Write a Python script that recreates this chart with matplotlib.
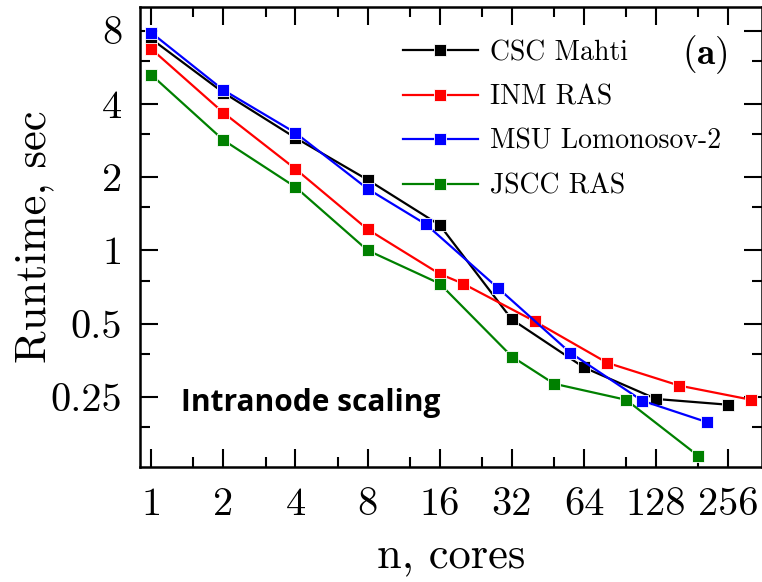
import numpy as np
import matplotlib
matplotlib.use("Agg")
import matplotlib.pyplot as plt

# data
mahti_n = [1, 2, 4, 8, 16, 32, 64, 128, 256]
mahti_t = [7.4, 4.45, 2.9, 1.95, 1.27, 0.52, 0.33, 0.245, 0.232]

inm_n = [1, 2, 4, 8, 16, 20, 40, 80, 160, 320]
inm_t = [6.73, 3.68, 2.16, 1.22, 0.80, 0.73, 0.51, 0.345, 0.278, 0.243]

msu_n = [1, 2, 4, 8, 14, 28, 56, 112, 208]
msu_t = [7.85, 4.56, 3.04, 1.79, 1.28, 0.70, 0.38, 0.241, 0.197]

jscc_n = [1, 2, 4, 8, 16, 32, 48, 96, 192]
jscc_t = [5.27, 2.84, 1.82, 1.0, 0.73, 0.366, 0.283, 0.243, 0.143]

x_ticks = [1, 2, 4, 8, 16, 32, 64, 128, 256]
x_ticklabels = ["1", "2", "4", "8", "16", "32", "64", "128", "256"]
y_ticks = [0.25, 0.5, 1, 2, 4, 8]
y_ticklabels = ["0.25", "0.5", "1", "2", "4", "8"]

plt.rcParams['font.family'] = ['cmr10', 'DejaVu Serif']
plt.rcParams['mathtext.fontset'] = 'cm'
plt.rcParams['axes.unicode_minus'] = False

fig = plt.figure(figsize=(7.62, 5.82), dpi=100)
ax = fig.add_axes([0.184, 0.198, 0.816, 0.79])

series = [
    (mahti_n, mahti_t, 'black', 'CSC Mahti'),
    (inm_n, inm_t, 'red', 'INM RAS'),
    (msu_n, msu_t, 'blue', 'MSU Lomonosov-2'),
    (jscc_n, jscc_t, 'green', 'JSCC RAS'),
]
for xs, ys, col, lab in series:
    ax.plot(xs, ys, color=col, lw=1.6, marker='s', markersize=9,
            markeredgecolor='white', markeredgewidth=0.6, label=lab)

ax.set_xscale('log', base=2)
ax.set_yscale('log', base=2)
xlo, xhi = 0.9, 354
ylo, yhi = 0.129, 10.0

ax.set_xticks(x_ticks)
ax.set_xticklabels(x_ticklabels)
ax.set_xticks([1.5 * t for t in x_ticks if 1.5 * t < xhi], minor=True)
ax.set_yticks(y_ticks)
ax.set_yticklabels(y_ticklabels)
ax.set_yticks([1.5 * t for t in [0.125] + y_ticks if 1.5 * t < yhi], minor=True)
ax.xaxis.set_minor_formatter(plt.NullFormatter())
ax.yaxis.set_minor_formatter(plt.NullFormatter())
ax.set_xlim(xlo, xhi)
ax.set_ylim(ylo, yhi)

ax.tick_params(which='both', direction='in', top=True, right=True, width=1.5,
               labelsize=29)
ax.tick_params(which='major', length=13)
ax.tick_params(which='minor', length=7)
ax.tick_params(axis='x', pad=15)
ax.tick_params(axis='y', pad=13)
for sp in ax.spines.values():
    sp.set_linewidth(1.8)

ax.set_xlabel("n, cores", fontsize=32, labelpad=9)
ax.set_ylabel("Runtime, sec", fontsize=32, labelpad=-3)

ax.legend(loc='upper left', bbox_to_anchor=(0.382, 0.983), frameon=False,
          fontsize=20, handlelength=2.7, handletextpad=0.45, labelspacing=0.65,
          borderaxespad=0.5)

ax.text(0.945, 0.896, r"$\mathbf{(a)}$", transform=ax.transAxes, ha='right',
        va='center', fontsize=27)
ax.text(0.065, 0.138, "Intranode scaling", transform=ax.transAxes, ha='left',
        va='center', fontsize=21.5, fontweight='bold', family='Open Sans')

fig.savefig("out.png", dpi=100)
